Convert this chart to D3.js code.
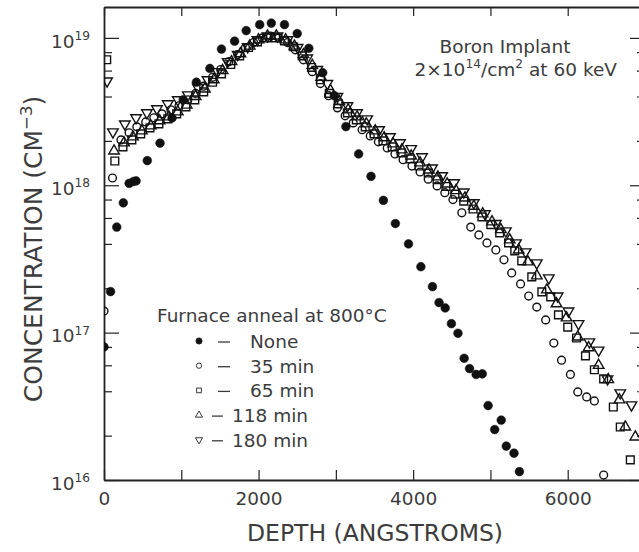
<!DOCTYPE html>
<meta charset="utf-8">
<head>
    <style>
        body { margin: 0; background: #fff; }
        text { font-family: "DejaVu Sans", sans-serif; fill: #3c3c3c; }
        .axis path, .axis line { stroke: #222; }
        .axis path { stroke-width: 1.8; }
        .axis line { stroke-width: 1.2; }
    </style>
    <script src="https://d3js.org/d3.v7.min.js"></script>
</head>
<body>
<svg id="chart"></svg>
<script>

    // depth in angstroms, concentration in cm^-3
    var depthNone = [0, 85, 165, 250, 325, 380, 415, 560, 725, 880, 1025, 1195, 1370, 1520, 1690, 1840, 2015, 2165, 2335, 2500,
        2650, 2830, 2980, 3130, 3295, 3455, 3615, 3770, 3940, 4100, 4250, 4335, 4415, 4495, 4580, 4660, 4730, 4815, 4895, 4970,
        5055, 5140, 5205, 5305, 5375];
    var concNone = [8.0e16, 1.9e17, 5.2e17, 7.6e17, 1.03e18, 1.06e18, 1.07e18, 1.47e18, 1.93e18, 2.86e18, 3.8e18, 5.0e18, 6.2e18, 8.4e18, 9.5e18, 1.12e19, 1.23e19, 1.26e19, 1.23e19, 1.07e19,
        8.5e18, 5.8e18, 4.05e18, 2.5e18, 1.63e18, 1.15e18, 7.9e17, 5.5e17, 4.0e17, 2.8e17, 2.05e17, 1.6e17, 1.47e17, 1.15e17, 9.9e16, 6.7e16, 5.7e16, 5.2e16, 5.25e16, 3.2e16,
        2.2e16, 2.55e16, 1.7e16, 1.52e16, 1.14e16];

    var depth35 = [0, 110, 220, 325, 425, 540, 645, 750, 865, 970, 1085, 1185, 1290, 1405, 1510, 1615, 1730, 1830, 1935, 2050,
        2155, 2260, 2375, 2475, 2580, 2695, 2800, 2905, 3020, 3120, 3225, 3340, 3445, 3550, 3665, 3765, 3870, 3985, 4090, 4195,
        4310, 4410, 4515, 4630, 4745, 4850, 4955, 5070, 5175, 5275, 5390, 5495, 5600, 5715, 5820, 5920, 6035, 6130, 6245, 6345, 6465];
    var conc35 = [1.4e17, 1.12e18, 2.03e18, 2.27e18, 2.49e18, 2.69e18, 2.87e18, 3.05e18, 3.25e18, 3.46e18, 3.8e18, 4.2e18, 4.7e18, 5.4e18, 6.1e18, 6.9e18, 7.7e18, 8.6e18, 9.3e18, 1.0e19,
        1.03e19, 1.0e19, 9.3e18, 8.3e18, 7.1e18, 5.9e18, 4.9e18, 4.05e18, 3.35e18, 2.96e18, 2.65e18, 2.38e18, 2.16e18, 1.97e18, 1.79e18, 1.63e18, 1.49e18, 1.35e18, 1.23e18, 1.1e18,
        9.9e17, 8.9e17, 8.0e17, 6.5e17, 5.2e17, 4.6e17, 4.06e17, 3.64e17, 3.12e17, 2.54e17, 2.14e17, 1.77e17, 1.49e17, 1.22e17, 8.5e16, 6.5e16, 5.2e16, 3.96e16, 3.66e16, 3.44e16, 1.08e16];

    var depth65 = [35, 140, 245, 360, 475, 595, 710, 825, 940, 1060, 1175, 1290, 1405, 1520, 1640, 1755, 1870, 1985, 2105, 2220,
        2335, 2450, 2565, 2685, 2800, 2915, 3030, 3150, 3265, 3380, 3495, 3610, 3730, 3845, 3960, 4075, 4195, 4310, 4425, 4540,
        4655, 4775, 4890, 5005, 5120, 5235, 5315, 5405, 5535, 5665, 5780, 5880, 6000, 6115, 6230, 6345, 6465, 6590, 6680, 6810];
    var conc65 = [7.1e18, 1.46e18, 1.82e18, 2.03e18, 2.23e18, 2.45e18, 2.61e18, 2.82e18, 3.05e18, 3.4e18, 3.8e18, 4.3e18, 5.0e18, 5.7e18, 6.6e18, 7.55e18, 8.6e18, 9.4e18, 1.0e19, 1.0e19,
        9.55e18, 8.7e18, 7.55e18, 6.3e18, 5.2e18, 4.2e18, 3.57e18, 3.1e18, 2.78e18, 2.49e18, 2.23e18, 2.0e18, 1.82e18, 1.66e18, 1.51e18, 1.35e18, 1.21e18, 1.09e18, 9.8e17, 8.7e17,
        7.8e17, 6.9e17, 6.1e17, 5.4e17, 4.75e17, 4.06e17, 3.59e17, 3.07e17, 2.39e17, 1.89e17, 1.75e17, 1.32e17, 1.09e17, 9.2e16, 6.95e16, 5.6e16, 4.85e16, 3.13e16, 2.29e16, 1.37e16];

    var depth118 = [130, 260, 375, 490, 605, 720, 840, 955, 1070, 1185, 1305, 1420, 1535, 1650, 1765, 1885, 2000, 2115, 2230, 2350,
        2465, 2580, 2695, 2810, 2930, 3045, 3160, 3275, 3395, 3510, 3625, 3740, 3855, 3975, 4090, 4205, 4320, 4440, 4555, 4670,
        4785, 4900, 5020, 5135, 5250, 5365, 5485, 5600, 5730, 5855, 5985, 6130, 6270, 6400, 6525, 6670, 6745, 6875];
    var conc118 = [1.71e18, 1.94e18, 2.13e18, 2.34e18, 2.53e18, 2.74e18, 2.91e18, 3.15e18, 3.5e18, 4.0e18, 4.5e18, 5.2e18, 6.0e18, 6.9e18, 7.8e18, 8.8e18, 9.7e18, 1.03e19, 1.03e19, 9.7e18,
        8.8e18, 7.7e18, 6.5e18, 5.4e18, 4.4e18, 3.7e18, 3.25e18, 2.91e18, 2.61e18, 2.34e18, 2.1e18, 1.91e18, 1.74e18, 1.58e18, 1.42e18, 1.27e18, 1.14e18, 1.02e18, 9.2e17, 8.2e17,
        7.2e17, 6.4e17, 5.65e17, 5.0e17, 4.26e17, 3.64e17, 3.02e17, 2.43e17, 1.95e17, 1.57e17, 1.26e17, 9.35e16, 7.9e16, 6.0e16, 4.8e16, 3.5e16, 2.29e16, 1.96e16];

    var depth180 = [40, 115, 270, 415, 555, 685, 825, 955, 1085, 1215, 1340, 1470, 1600, 1730, 1860, 1985, 2115, 2245, 2375, 2505,
        2630, 2760, 2890, 3020, 3150, 3275, 3405, 3560, 3700, 3830, 3975, 4115, 4245, 4375, 4530, 4655, 4785, 4930, 5070, 5200,
        5330, 5455, 5600, 5755, 5870, 6010, 6140, 6280, 6400, 6515, 6680, 6825];
    var conc180 = [5.1e18, 2.3e18, 2.6e18, 2.87e18, 3.1e18, 3.3e18, 3.57e18, 3.8e18, 4.1e18, 4.6e18, 5.2e18, 5.9e18, 6.9e18, 7.7e18, 8.7e18, 9.7e18, 1.03e19, 1.03e19, 9.7e18, 8.6e18,
        7.3e18, 6.1e18, 4.9e18, 4.0e18, 3.46e18, 3.1e18, 2.82e18, 2.38e18, 2.13e18, 1.94e18, 1.77e18, 1.56e18, 1.31e18, 1.16e18, 1.04e18, 9.0e17, 7.6e17, 6.4e17, 5.5e17, 4.9e17,
        4.06e17, 3.53e17, 2.97e17, 2.35e17, 1.77e17, 1.4e17, 1.15e17, 8.65e16, 7.6e16, 4.85e16, 3.9e16, 3.23e16];

    var legendLabels = ["None", "35 min", "65 min", "118 min", "180 min"];
    var xTicks = [0, 1000, 2000, 3000, 4000, 5000, 6000, 7000];
    var xLabelTicks = [0, 2000, 4000, 6000];
    var yMajorTicks = [1e16, 1e17, 1e18, 1e19];
    var yMinorTicks = [2e16, 4e16, 6e16, 8e16, 2e17, 4e17, 6e17, 8e17, 2e18, 4e18, 6e18, 8e18];

    var width = 639, height = 552;
    var plotL = 104, plotR = 645, plotT = 7, plotB = 480;

    var svg = d3.select("#chart")
        .attr("width", width)
        .attr("height", height);

    var x = d3.scaleLinear().domain([0, 7000]).range([plotL, plotR]);
    var y = d3.scaleLog().domain([1e16, 1.62e19]).range([plotB, plotT]);

    // text with superscripts: parts = [[string, isSup], ...]
    function rich(sel, parts, size) {
        var up = false;
        parts.forEach(function (p) {
            var t = sel.append("tspan").text(p[0]);
            if (p[1]) {
                t.attr("font-size", size * 0.66);
                if (!up) { t.attr("dy", -size * 0.42); up = true; }
            } else if (up) {
                t.attr("dy", size * 0.42);
                up = false;
            }
        });
    }

    // axes
    var gLeft = svg.append("g").attr("class", "axis").attr("transform", "translate(" + plotL + ",0)")
        .call(d3.axisLeft(y).tickValues(yMajorTicks).tickSizeInner(-15).tickSizeOuter(0).tickPadding(14).tickFormat(""));
    gLeft.selectAll(".tick text").attr("dy", "0.5em").style("font-size", "18.5px")
        .each(function (d) {
            rich(d3.select(this), [["10", 0], [String(Math.round(Math.log10(d))), 1]], 18.5);
        });
    svg.append("g").attr("class", "axis minor").attr("transform", "translate(" + plotL + ",0)")
        .call(d3.axisLeft(y).tickValues(yMinorTicks).tickSizeInner(-8).tickSizeOuter(0).tickFormat(""))
        .select(".domain").remove();

    svg.append("g").attr("class", "axis").attr("transform", "translate(" + plotR + ",0)")
        .call(d3.axisRight(y).tickValues(yMajorTicks).tickSizeInner(-15).tickSizeOuter(0).tickFormat(""));
    svg.append("g").attr("class", "axis minor").attr("transform", "translate(" + plotR + ",0)")
        .call(d3.axisRight(y).tickValues(yMinorTicks).tickSizeInner(-8).tickSizeOuter(0).tickFormat(""))
        .select(".domain").remove();

    var gBottom = svg.append("g").attr("class", "axis").attr("transform", "translate(0," + plotB + ")")
        .call(d3.axisBottom(x).tickValues(xTicks).tickSizeInner(-10).tickSizeOuter(0).tickPadding(12)
            .tickFormat(function (d) { return xLabelTicks.indexOf(d) >= 0 ? d : ""; }));
    gBottom.selectAll(".tick text").style("font-size", "18.5px");

    svg.append("g").attr("class", "axis").attr("transform", "translate(0," + plotT + ")")
        .call(d3.axisTop(x).tickValues(xTicks).tickSizeInner(-9).tickSizeOuter(0).tickFormat(""));

    svg.selectAll(".axis text").style("fill", "#3c3c3c").style("font-family", "DejaVu Sans, sans-serif");

    // axis titles
    svg.append("text")
        .attr("x", 375).attr("y", 541)
        .attr("text-anchor", "middle")
        .style("font-size", "23.5px")
        .text("DEPTH (ANGSTROMS)");

    var yTitle = svg.append("text")
        .attr("transform", "translate(42,249) rotate(-90)")
        .attr("text-anchor", "middle")
        .style("font-size", "25px");
    rich(yTitle, [["CONCENTRATION (CM", 0], ["\u22123", 1], [")", 0]], 25);

    // annotation
    svg.append("text")
        .attr("x", 505).attr("y", 53)
        .attr("text-anchor", "middle")
        .style("font-size", "18.5px")
        .text("Boron Implant");
    var ann = svg.append("text")
        .attr("x", 617).attr("y", 76)
        .attr("text-anchor", "end")
        .style("font-size", "18.5px");
    rich(ann, [["2\u00d710", 0], ["14", 1], ["/cm", 0], ["2", 1], [" at 60 keV", 0]], 18.5);

    // data markers
    svg.append("clipPath").attr("id", "plotClip")
        .append("rect").attr("x", plotL).attr("y", plotT).attr("width", plotR - plotL).attr("height", plotB - plotT);

    var series = [
        {depth: depth35, conc: conc35, type: d3.symbolCircle, size: 48, fill: "none", rot: 0},
        {depth: depth65, conc: conc65, type: d3.symbolSquare, size: 60, fill: "none", rot: 0},
        {depth: depth118, conc: conc118, type: d3.symbolTriangle, size: 48, fill: "none", rot: 0},
        {depth: depth180, conc: conc180, type: d3.symbolTriangle, size: 48, fill: "none", rot: 180},
        {depth: depthNone, conc: concNone, type: d3.symbolCircle, size: 60, fill: "#111", rot: 0}
    ];

    var plot = svg.append("g").attr("clip-path", "url(#plotClip)");

    series.forEach(function (s) {
        plot.append("g")
            .selectAll("path")
            .data(d3.zip(s.depth, s.conc))
            .enter()
            .append("path")
            .attr("d", d3.symbol().type(s.type).size(s.size))
            .attr("transform", function (d) {
                return "translate(" + x(d[0]) + "," + y(d[1]) + ") rotate(" + s.rot + ")";
            })
            .style("fill", s.fill)
            .style("stroke", "#111")
            .style("stroke-width", s.fill === "none" ? 1.4 : 0.5);
    });

    // legend
    var legend = svg.append("g");
    legend.append("text")
        .attr("x", 157).attr("y", 322)
        .style("font-size", "18.5px")
        .text("Furnace anneal at 800\u00b0C");

    var legendOrder = [4, 0, 1, 2, 3];
    legendLabels.forEach(function (label, i) {
        var s = series[legendOrder[i]];
        var by = 348 + i * 24.7;
        var wide = label.length > 6;
        legend.append("path")
            .attr("d", d3.symbol().type(s.type).size(s.fill === "none" ? 22 : 30))
            .attr("transform", "translate(199," + (by - 7) + ") rotate(" + s.rot + ")")
            .style("fill", s.fill)
            .style("stroke", "#222")
            .style("stroke-width", 0.9);
        legend.append("line")
            .attr("x1", wide ? 212 : 218).attr("x2", wide ? 223 : 230)
            .attr("y1", by - 6).attr("y2", by - 6)
            .style("stroke", "#3c3c3c")
            .style("stroke-width", 1.3);
        legend.append("text")
            .attr("x", wide ? 232 : 250).attr("y", by)
            .style("font-size", "18.5px")
            .text(label);
    });

</script>
</body>
